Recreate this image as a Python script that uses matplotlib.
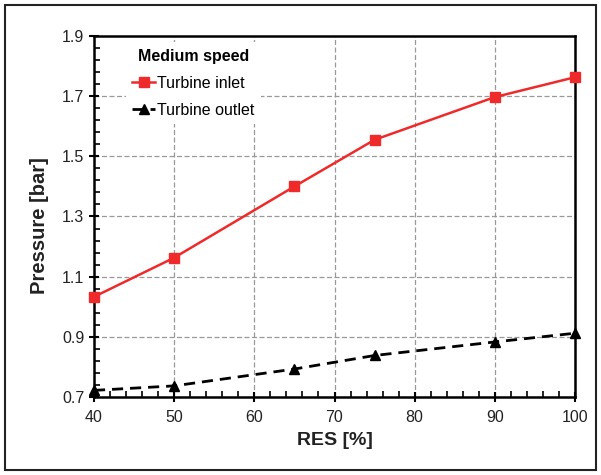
import matplotlib
matplotlib.use("Agg")
import matplotlib.pyplot as plt
from matplotlib.patches import Rectangle
from matplotlib.ticker import MultipleLocator

plt.rcParams['font.family'] = ['Liberation Sans', 'DejaVu Sans']

res = [40, 50, 65, 75, 90, 100]
inlet = [1.033, 1.163, 1.40, 1.555, 1.697, 1.763]
outlet = [0.722, 0.737, 0.793, 0.838, 0.883, 0.912]

fig = plt.figure(figsize=(6.01, 4.75), dpi=100)
ax = fig.add_axes([94/601, 1-397/475, (575-94)/601, (397-36)/475])

# outer frame
fig.patches.append(Rectangle((0.008, 0.01), 0.984, 0.98, transform=fig.transFigure,
                             fill=False, edgecolor='#222222', linewidth=1.5))

ax.plot(res, inlet, color='#ee2a2a', marker='s', markersize=7, linewidth=1.8,
        label='Turbine inlet', zorder=3, clip_on=False)
ax.plot(res, outlet, color='black', marker='^', markersize=7, linewidth=2.0,
        linestyle=(0, (4, 2.5)), label='Turbine outlet', zorder=3, clip_on=False)

ax.set_xlim(40, 100)
ax.set_ylim(0.7, 1.9)
ax.xaxis.set_major_locator(MultipleLocator(10))
ax.xaxis.set_minor_locator(MultipleLocator(2))
ax.yaxis.set_major_locator(MultipleLocator(0.2, offset=0.1))
ax.yaxis.set_minor_locator(MultipleLocator(0.04, offset=0.02))
ax.yaxis.set_major_formatter(plt.FuncFormatter(lambda v, p: f"{v:.1f}"))

ax.grid(True, which='major', color='#999999', linestyle=(0, (4, 2)), linewidth=0.9)
ax.tick_params(which='major', direction='inout', length=7, width=1.5,
               labelsize=11.5, colors='black', labelcolor='#222222')
ax.tick_params(which='minor', direction='in', length=4, width=1.2)
ax.tick_params(axis='x', pad=6)
for s in ax.spines.values():
    s.set_linewidth(1.8)

ax.set_xlabel('RES [%]', fontsize=14, fontweight='bold', color='#222222', labelpad=5)
ax.set_ylabel('Pressure [bar]', fontsize=14.5, fontweight='bold', color='#222222')
ax.yaxis.set_label_coords(-0.094, 0.474)

leg = ax.legend(title='Medium speed', loc='upper left', frameon=True, fontsize=11.5,
                handlelength=1.4, handletextpad=0.15, bbox_to_anchor=(0.05, 1.005),
                labelspacing=0.75, borderpad=0.4, fancybox=False, framealpha=1)
leg.get_frame().set_edgecolor('none')
leg.get_frame().set_facecolor('white')
leg.get_title().set_fontweight('bold')
leg.get_title().set_fontsize(11.5)
leg.set_zorder(5)

fig.savefig('out.png', dpi=100)
